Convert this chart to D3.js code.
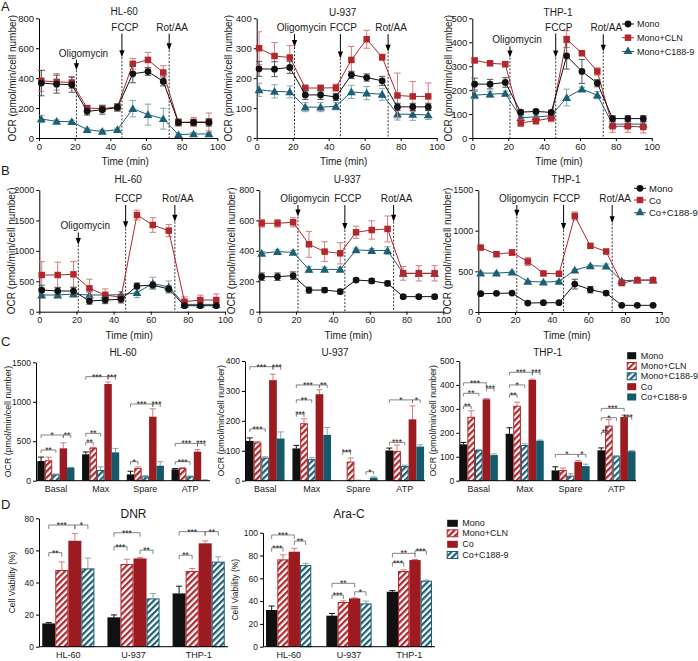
<!DOCTYPE html>
<html><head><meta charset="utf-8">
<script src="https://cdn.jsdelivr.net/npm/d3@7"></script>
<style>body{margin:0;background:#fff}svg{display:block}</style>
</head><body><svg id="c" width="698" height="661"></svg>
<script>
// ================= DATA =================
const times = [1.3, 9.9, 18.4, 27.0, 35.5, 44.0, 52.6, 61.1, 69.7, 78.2, 86.7, 95.3];
const xTicks = [0, 20, 40, 60, 80, 100];
const injections = ["Oligomycin", "FCCP", "Rot/AA"];
const injectionTimes = [21, 46.5, 73];
const cellLines = ["HL-60", "U-937", "THP-1"];
const seriesA = ["Mono", "Mono+CLN", "Mono+C188-9"];
const seriesB = ["Mono", "Co", "Co+C188-9"];
const seriesC = ["Mono", "Mono+CLN", "Mono+C188-9", "Co", "Co+C188-9"];
const seriesD = ["Mono", "Mono+CLN", "Co", "Co+C188-9"];
const paramsC = ["Basal", "Max", "Spare", "ATP"];
const drugsD = ["DNR", "Ara-C"];

// Panel A : OCR (series order: Mono, Mono+CLN, Mono+C188-9)
const A_HL60 = [
  [367, 360, 356, 178, 189, 204, 429, 444, 378, 104, 104, 104],
  [382, 375, 371, 200, 196, 207, 496, 522, 438, 104, 107, 107],
  [127, 111, 109, 56, 44, 56, 196, 156, 129, 22, 27, 27]];
const A_HL60_err = [
  [85, 60, 50, 25, 30, 25, 60, 25, 30, 20, 20, 25],
  [70, 55, 40, 15, 20, 20, 35, 50, 45, 25, 30, 60],
  [25, 10, 10, 10, 10, 10, 55, 70, 70, 10, 10, 10]];
const A_U937 = [
  [231, 230, 236, 144, 144, 137, 211, 202, 191, 104, 104, 104],
  [300, 274, 269, 167, 167, 168, 261, 330, 270, 142, 139, 139],
  [161, 156, 154, 103, 103, 106, 154, 150, 146, 80, 79, 77]];
const A_U937_err = [
  [25, 25, 20, 15, 15, 12, 12, 12, 15, 12, 12, 12],
  [55, 45, 40, 10, 10, 12, 45, 30, 10, 75, 50, 45],
  [22, 22, 20, 15, 15, 12, 22, 22, 20, 20, 20, 15]];
const A_THP1 = [
  [225, 225, 232, 108, 111, 107, 343, 278, 229, 81, 81, 81],
  [324, 312, 308, 63, 72, 83, 413, 354, 278, 49, 49, 46],
  [179, 183, 186, 85, 88, 93, 169, 204, 179, 58, 58, 58]];
const A_THP1_err = [
  [25, 20, 20, 8, 8, 8, 55, 50, 15, 12, 12, 12],
  [8, 8, 8, 15, 15, 15, 35, 5, 15, 25, 25, 25],
  [15, 12, 10, 8, 8, 8, 35, 8, 15, 8, 8, 8]];

// Panel B : OCR (series order: Mono, Co, Co+C188-9)
const B_HL60 = [
  [356, 340, 340, 175, 192, 203, 422, 438, 373, 99, 99, 99],
  [603, 603, 614, 384, 274, 236, 1589, 1425, 1332, 164, 192, 192],
  [274, 274, 290, 274, 274, 279, 312, 466, 405, 120, 120, 120]];
const B_HL60_err = [
  [80, 60, 60, 50, 60, 60, 50, 50, 50, 20, 20, 20],
  [220, 210, 210, 150, 100, 50, 80, 120, 100, 80, 80, 100],
  [40, 40, 40, 40, 50, 50, 80, 100, 100, 30, 30, 30]];
const B_U937 = [
  [230, 230, 237, 142, 142, 132, 208, 202, 186, 99, 99, 99],
  [581, 581, 588, 443, 395, 384, 522, 537, 544, 252, 252, 252],
  [384, 395, 390, 278, 278, 278, 406, 402, 402, 252, 252, 252]];
const B_U937_err = [
  [25, 25, 25, 20, 15, 15, 12, 15, 15, 10, 10, 10],
  [25, 25, 30, 85, 65, 70, 40, 60, 85, 45, 50, 50],
  [12, 12, 12, 20, 15, 15, 12, 12, 25, 20, 20, 20]];
const B_THP1 = [
  [225, 229, 233, 110, 114, 114, 343, 274, 233, 82, 82, 82],
  [792, 711, 731, 621, 474, 470, 1181, 813, 744, 356, 392, 392],
  [478, 478, 490, 376, 368, 376, 515, 568, 564, 384, 392, 392]];
const B_THP1_err = [
  [12, 12, 12, 12, 12, 12, 60, 40, 25, 10, 10, 10],
  [20, 30, 35, 50, 15, 15, 50, 30, 25, 20, 20, 20],
  [12, 12, 12, 12, 12, 12, 12, 12, 25, 12, 12, 12]];

// injection annotation heights [label value, arrow-tip value]
const A_HL60_inj = [[543, 453], [717, 540], [717, 587]];
const A_U937_inj = [[357, 304], [357, 266], [357, 288]];
const A_THP1_inj = [[396, 336], [449, 336], [446, 360]];
const B_HL60_inj = [[1351, 1096], [1803, 1370], [1803, 1479]];
const B_U937_inj = [[721, 625], [721, 537], [721, 592]];
const B_THP1_inj = [[1352, 1172], [1352, 1008], [1352, 1090]];

// Panel C : OCR parameters (rows = seriesC, cols = paramsC)
const C_HL60 = [[249, 334, 80, 144], [258, 418, 160, 160], [80, 135, 55, 55], [410, 1225, 811, 368], [165, 359, 190, 0]];
const C_HL60_err = [[50, 30, 40, 10], [40, 5, 15, 8], [5, 40, 10, 5], [70, 25, 100, 25], [5, 50, 50, 12]];
const C_U937 = [[133, 108, 0, 101], [128, 192, 64, 99], [77, 72, 0, 49], [336, 289, 0, 205], [141, 153, 10, 114]];
const C_U937_err = [[10, 10, 0, 8], [3, 15, 12, 20], [3, 5, 2, 3], [20, 15, 0, 45], [22, 25, 3, 6]];
const C_THP1 = [[152, 196, 43, 127], [267, 313, 45, 230], [128, 149, 21, 102], [340, 421, 79, 266], [107, 167, 61, 123]];
const C_THP1_err = [[8, 25, 15, 10], [25, 15, 8, 25], [3, 5, 8, 3], [3, 3, 5, 8], [5, 3, 8, 3]];
// significance: [param index, bar a, bar b, height, label]
const C_HL60_sig = [[0,0,2,389,"**"],[0,0,3,579,"*"],[0,3,4,579,"**"],[1,0,1,486,"**"],[1,0,2,600,"**"],[1,0,3,1318,"***"],[1,3,4,1318,"***"],[2,0,1,241,"*"],[2,0,3,972,"***"],[2,3,4,972,"***"],[3,0,2,241,"***"],[3,0,3,473,"***"],[3,3,4,473,"***"]];
const C_U937_sig = [[0,0,2,173,"***"],[0,0,3,381,"***"],[0,3,4,381,"***"],[1,0,1,223,"***"],[1,0,2,270,"**"],[1,0,3,320,"***"],[1,3,4,320,"**"],[2,0,1,97,"***"],[2,3,4,30,"*"],[3,0,2,128,"***"],[3,0,3,270,"*"],[3,3,4,270,"*"]];
const C_THP1_sig = [[0,0,1,312,"**"],[0,0,2,365,"**"],[0,0,3,409,"***"],[0,3,4,386,"***"],[1,0,1,359,"**"],[1,0,2,400,"*"],[1,0,3,453,"***"],[1,3,4,453,"***"],[2,0,3,110,"*"],[2,3,4,110,"*"],[3,0,1,202,"**"],[3,0,2,263,"*"],[3,0,3,302,"***"],[3,3,4,267,"***"]];

// Panel D : cell viability (rows = seriesD, cols = cellLines)
const D_DNR = [[14.5, 18.3, 33.2], [47.8, 51.5, 47.2], [66, 55, 64.4], [48.8, 30.1, 53]];
const D_DNR_err = [[0.5, 1.5, 4.5], [5, 3, 1.5], [4.5, 0.5, 1.5], [6.5, 3, 3]];
const D_ARAC = [[32.2, 27.2, 48.2], [76.6, 39.2, 66.4], [83.3, 42.4, 76], [71.6, 38, 57.9]];
const D_ARAC_err = [[3.5, 2, 1], [4, 1, 1], [3, 0.5, 0.5], [1.5, 2, 0.5]];
const D_DNR_sig = [[0,0,1,58.6,"**"],[0,0,2,75.8,"***"],[0,2,3,75.8,"*"],[1,0,1,62.3,"***"],[1,0,2,71,"***"],[1,2,3,60.2,"**"],[2,0,1,57,"**"],[2,0,2,71.7,"***"],[2,2,3,71.7,"**"]];
const D_ARAC_sig = [[0,0,1,86.8,"***"],[0,0,2,98,"***"],[0,2,3,92.7,"**"],[1,0,1,45.3,"***"],[1,0,2,55.6,"**"],[1,2,3,48.2,"*"],[2,0,1,73.7,"***"],[2,0,2,81.9,"**"],[2,2,3,84.2,"***"]];

// ================= STYLE =================
const FONT = '"Liberation Sans", Arial, Helvetica, sans-serif';
const BLACK = "#111", RED = "#b3262b", TEAL = "#1d5f73", CORED = "#9b1b21", COTEAL = "#145a6b";
const BLACK_E = "#555", RED_E = "#d77a7d", TEAL_E = "#7fa8b5";
const svg = d3.select("#c").attr("font-family", FONT);
const defs = svg.append("defs");
function hatch(id, color) {
  const p = defs.append("pattern").attr("id", id).attr("patternUnits", "userSpaceOnUse")
    .attr("width", 4.4).attr("height", 4.4).attr("patternTransform", "rotate(45)");
  p.append("rect").attr("width", 4.4).attr("height", 4.4).attr("fill", "#fff");
  p.append("rect").attr("width", 2.2).attr("height", 4.4).attr("fill", color);
}
hatch("hRed", RED); hatch("hTeal", TEAL);

const lineStyles = [
  {c: BLACK, e: BLACK_E, sym: d3.symbolCircle, size: 36},
  {c: RED, e: RED_E, sym: d3.symbolSquare, size: 42},
  {c: TEAL, e: TEAL_E, sym: d3.symbolTriangle, size: 34}];
const barStylesC = [
  {fill: BLACK, stroke: "none", e: BLACK},
  {fill: "url(#hRed)", stroke: RED, e: RED_E},
  {fill: "url(#hTeal)", stroke: TEAL, e: TEAL_E},
  {fill: CORED, stroke: "none", e: RED_E},
  {fill: COTEAL, stroke: "none", e: TEAL_E}];
const barStylesD = [barStylesC[0], barStylesC[1], barStylesC[3], barStylesC[2]];
const injDx = [7, 3, 3];

function styleAxis(a, fs) {
  a.attr("font-family", FONT).attr("font-size", fs);
  a.selectAll("path,line").attr("stroke", "#000").attr("stroke-width", 1);
  a.selectAll("text").attr("fill", "#1a1a1a");
}
function yLabel(txt, x, y, fs) {
  svg.append("text").attr("transform", `translate(${x},${y}) rotate(-90)`)
    .attr("text-anchor", "middle").attr("dominant-baseline", "central")
    .attr("font-size", fs).attr("fill", "#1a1a1a").text(txt);
}
function text(txt, x, y, fs, anchor = "middle") {
  return svg.append("text").attr("x", x).attr("y", y).attr("font-size", fs)
    .attr("text-anchor", anchor).attr("fill", "#1a1a1a").text(txt);
}

// ================= LINE CHARTS =================
function lineChart(cfg) {
  const x = d3.scaleLinear().domain([0, 100]).range([cfg.x0, cfg.x1]);
  const y = d3.scaleLinear().domain([0, cfg.yMax]).range([cfg.yBot, cfg.yTop]);
  const g = svg.append("g");
  const ya = g.append("g").attr("transform", `translate(${cfg.x0},0)`)
    .call(d3.axisLeft(y).tickValues(d3.range(0, cfg.yMax + 1, cfg.yStep)).tickSize(3).tickSizeOuter(0).tickPadding(2).tickFormat(d3.format("d")));
  styleAxis(ya, cfg.tfs);
  const xa = g.append("g").attr("transform", `translate(0,${cfg.yBot})`)
    .call(d3.axisBottom(x).tickValues(xTicks).tickSize(3).tickSizeOuter(0).tickPadding(2));
  styleAxis(xa, cfg.tfs);
  text(cfg.title, (cfg.x0 + cfg.x1) / 2 - 4, cfg.titleY, 10);
  text("Time (min)", (cfg.x0 + cfg.x1) / 2 - 3, cfg.yBot + 27, 10);
  yLabel("OCR (pmol/min/cell number)", cfg.ylx, (cfg.yTop + cfg.yBot) / 2, 10);
  // injections
  injectionTimes.forEach((t, k) => {
    const xx = x(t), lv = cfg.inj[k][0], tv = cfg.inj[k][1];
    g.append("line").attr("x1", xx).attr("x2", xx).attr("y1", y(tv)).attr("y2", cfg.yBot)
      .attr("stroke", "#000").attr("stroke-width", 0.8).attr("stroke-dasharray", "2,1.6");
    g.append("line").attr("x1", xx).attr("x2", xx).attr("y1", y(lv) + 3).attr("y2", y(tv) - 5)
      .attr("stroke", "#000").attr("stroke-width", 1);
    g.append("path").attr("d", `M${xx - 2.6},${y(tv) - 7}L${xx + 2.6},${y(tv) - 7}L${xx},${y(tv)}Z`).attr("fill", "#000");
    text(injections[k], xx + injDx[k], y(lv), 10);
  });
  // series
  const order = [2, 1, 0];
  order.forEach(s => {
    const st = lineStyles[s], vals = cfg.data[s], errs = cfg.err[s];
    const eg = g.append("g").attr("stroke", st.e).attr("stroke-width", 1);
    vals.forEach((v, i) => {
      const xx = x(times[i]);
      eg.append("line").attr("x1", xx).attr("x2", xx).attr("y1", y(v - errs[i])).attr("y2", y(v + errs[i]));
      eg.append("line").attr("x1", xx - 3.2).attr("x2", xx + 3.2).attr("y1", y(v + errs[i])).attr("y2", y(v + errs[i]));
      eg.append("line").attr("x1", xx - 3.2).attr("x2", xx + 3.2).attr("y1", y(v - errs[i])).attr("y2", y(v - errs[i]));
    });
    g.append("path").attr("d", d3.line().x((v, i) => x(times[i])).y(v => y(v))(vals))
      .attr("fill", "none").attr("stroke", st.c).attr("stroke-width", 1);
    g.selectAll(null).data(vals).join("path")
      .attr("transform", (v, i) => `translate(${x(times[i])},${y(v) + (st.sym === d3.symbolTriangle ? 0.8 : 0)})`)
      .attr("d", d3.symbol().type(st.sym).size(st.size)).attr("fill", st.c);
  });
}
function lineLegend(names, x, ys, fs) {
  names.forEach((n, s) => {
    const st = lineStyles[s];
    svg.append("line").attr("x1", x - 6).attr("x2", x + 6).attr("y1", ys[s]).attr("y2", ys[s]).attr("stroke", st.c);
    svg.append("path").attr("transform", `translate(${x},${ys[s]})`).attr("d", d3.symbol().type(st.sym).size(st.size)).attr("fill", st.c);
    text(n, x + 9, ys[s], fs, "start").attr("dominant-baseline", "central");
  });
}

// ================= BAR CHARTS =================
function barChart(cfg) {
  const gx = d3.scaleBand().domain(cfg.groups).range([cfg.x0, cfg.x1]).paddingInner(cfg.pi).paddingOuter(cfg.po);
  const sx = d3.scaleBand().domain(d3.range(cfg.values.length)).range([0, gx.bandwidth()]);
  const y = d3.scaleLinear().domain([0, cfg.yMax]).range([cfg.yBot, cfg.yTop]);
  const g = svg.append("g");
  const bw = sx.bandwidth();
  cfg.values.forEach((vals, s) => {
    const st = cfg.styles[s];
    vals.forEach((v, gi) => {
      const bx = gx(cfg.groups[gi]) + sx(s);
      const e = cfg.err[s][gi];
      if (e > 0) {
        g.append("line").attr("x1", bx + bw / 2).attr("x2", bx + bw / 2).attr("y1", y(v)).attr("y2", y(v + e)).attr("stroke", st.e);
        g.append("line").attr("x1", bx + bw / 2 - 3).attr("x2", bx + bw / 2 + 3).attr("y1", y(v + e)).attr("y2", y(v + e)).attr("stroke", st.e);
      }
      if (v > 0) {
        g.append("rect").attr("x", bx + (st.stroke === "none" ? 0 : 0.5)).attr("y", y(v) + (st.stroke === "none" ? 0 : 0.5))
          .attr("width", bw - (st.stroke === "none" ? 0 : 1)).attr("height", Math.max(0, y(0) - y(v) - (st.stroke === "none" ? 0 : 0.5)))
          .attr("fill", st.fill).attr("stroke", st.stroke).attr("stroke-width", 1);
      }
    });
  });
  // significance brackets
  cfg.sig.forEach(([gi, a, b, h, lab]) => {
    const xa = gx(cfg.groups[gi]) + sx(a) + bw / 2, xb = gx(cfg.groups[gi]) + sx(b) + bw / 2, yy = y(h);
    g.append("path").attr("d", `M${xa},${yy + cfg.leg}V${yy}H${xb}V${yy + cfg.leg}`)
      .attr("fill", "none").attr("stroke", "#666").attr("stroke-width", 0.8);
    text(lab, (xa + xb) / 2, yy + 3, 8.5);
  });
  const ya = g.append("g").attr("transform", `translate(${cfg.x0},0)`)
    .call(d3.axisLeft(y).tickValues(d3.range(0, cfg.yMax + 1, cfg.yStep)).tickSize(3).tickSizeOuter(0).tickPadding(2).tickFormat(d3.format("d")));
  styleAxis(ya, cfg.tfs);
  const xa = g.append("g").attr("transform", `translate(0,${cfg.yBot})`)
    .call(d3.axisBottom(gx).tickSize(0).tickSizeOuter(0).tickPadding(5));
  styleAxis(xa, cfg.cfs);
  xa.select("path").attr("d", `M${cfg.x0},0H${cfg.x1}`);
  text(cfg.title, (cfg.x0 + cfg.x1) / 2, cfg.titleY, cfg.titleFs);
  yLabel(cfg.ylab, cfg.ylx, (cfg.yTop + cfg.yBot) / 2, cfg.ylFs);
}
function barLegend(names, styles, x, ys, w, fs) {
  names.forEach((n, s) => {
    const st = styles[s];
    svg.append("rect").attr("x", x + 0.5).attr("y", ys[s] - 3.5).attr("width", w - 1).attr("height", 7)
      .attr("fill", st.fill).attr("stroke", st.stroke).attr("stroke-width", st.stroke === "none" ? 0 : 1);
    text(n, x + w + 4, ys[s], fs, "start").attr("dominant-baseline", "central");
  });
}

// ================= PANEL A =================
lineChart({x0: 39, x1: 217.3, yTop: 18.3, yBot: 138, yMax: 800, yStep: 200, title: cellLines[0], titleY: 15, ylx: 12, tfs: 9.5, data: A_HL60, err: A_HL60_err, inj: A_HL60_inj});
lineChart({x0: 256.7, x1: 436.7, yTop: 18.3, yBot: 138, yMax: 400, yStep: 100, title: cellLines[1], titleY: 15.5, ylx: 228, tfs: 9.5, data: A_U937, err: A_U937_err, inj: A_U937_inj});
lineChart({x0: 472.3, x1: 651.7, yTop: 18.3, yBot: 138, yMax: 500, yStep: 100, title: cellLines[2], titleY: 15.5, ylx: 448.5, tfs: 9.5, data: A_THP1, err: A_THP1_err, inj: A_THP1_inj});
lineLegend(seriesA, 628, [24, 37.7, 51.5], 9);

// ================= PANEL B =================
lineChart({x0: 39.3, x1: 225, yTop: 190, yBot: 311.7, yMax: 2000, yStep: 500, title: cellLines[0], titleY: 182.5, ylx: 11, tfs: 9, data: B_HL60, err: B_HL60_err, inj: B_HL60_inj});
lineChart({x0: 259.3, x1: 443.3, yTop: 190, yBot: 311.7, yMax: 800, yStep: 200, title: cellLines[1], titleY: 182.5, ylx: 231.5, tfs: 9, data: B_U937, err: B_U937_err, inj: B_U937_inj});
lineChart({x0: 478.3, x1: 661.7, yTop: 190, yBot: 312, yMax: 1500, yStep: 500, title: cellLines[2], titleY: 182.5, ylx: 447.5, tfs: 9, data: B_THP1, err: B_THP1_err, inj: B_THP1_inj});
lineLegend(seriesB, 640, [188.3, 200, 212.7], 9.5);

// ================= PANEL C =================
const ylabOCR = "OCR (pmol/min/cell number)";
barChart({groups: paramsC, values: C_HL60, err: C_HL60_err, sig: C_HL60_sig, styles: barStylesC, x0: 36, x1: 210, pi: 0.17, po: 0.03, yTop: 362.3, yBot: 480.7, yMax: 1500, yStep: 500, title: cellLines[0], titleY: 355.5, titleFs: 10, ylab: ylabOCR, ylx: 8, ylFs: 8.8, tfs: 8.5, cfs: 9, leg: 3});
barChart({groups: paramsC, values: C_U937, err: C_U937_err, sig: C_U937_sig, styles: barStylesC, x0: 245, x1: 425, pi: 0.17, po: 0.02, yTop: 361, yBot: 480.7, yMax: 400, yStep: 100, title: cellLines[1], titleY: 355.5, titleFs: 10, ylab: ylabOCR, ylx: 221, ylFs: 8.8, tfs: 8.5, cfs: 9, leg: 3});
barChart({groups: paramsC, values: C_THP1, err: C_THP1_err, sig: C_THP1_sig, styles: barStylesC, x0: 459.3, x1: 636, pi: 0.17, po: 0.01, yTop: 361, yBot: 480.7, yMax: 500, yStep: 100, title: cellLines[2], titleY: 355.5, titleFs: 10, ylab: ylabOCR, ylx: 432.5, ylFs: 8.8, tfs: 8.5, cfs: 9, leg: 3});
barLegend(seriesC, barStylesC, 626.7, [355.7, 366, 376.3, 386.7, 397], 10, 9);

// ================= PANEL D =================
barChart({groups: cellLines, values: D_DNR, err: D_DNR_err, sig: D_DNR_sig, styles: barStylesD, x0: 39, x1: 228, pi: 0.2, po: 0.05, yTop: 518.3, yBot: 646.7, yMax: 80, yStep: 20, title: drugsD[0], titleY: 517.5, titleFs: 12, ylab: "Cell Viability (%)", ylx: 12, ylFs: 8.5, tfs: 8.5, cfs: 9, leg: 4});
barChart({groups: cellLines, values: D_ARAC, err: D_ARAC_err, sig: D_ARAC_sig, styles: barStylesD, x0: 263, x1: 435, pi: 0.25, po: 0.05, yTop: 532.7, yBot: 646.7, yMax: 100, yStep: 20, title: drugsD[1], titleY: 518, titleFs: 12, ylab: "Cell Viability (%)", ylx: 235, ylFs: 8.5, tfs: 8.5, cfs: 9, leg: 4});
barLegend(seriesD, barStylesD, 446.7, [523.3, 533.3, 544.3, 555], 11.6, 9);

// panel letters
[["A", 11], ["B", 175], ["C", 345.5], ["D", 509]].forEach(([l, yy]) => text(l, 1, yy, 13, "start"));
</script></body></html>
